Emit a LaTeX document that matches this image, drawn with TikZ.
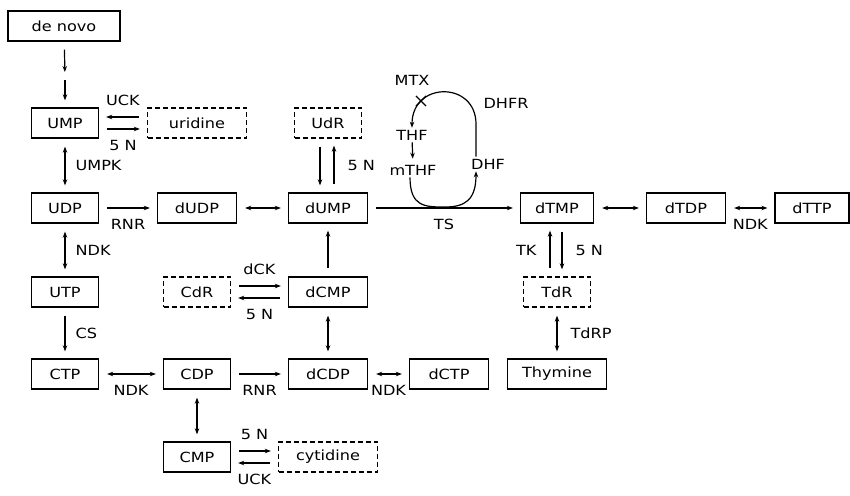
\documentclass[tikz,border=0pt]{standalone}
\usepackage{fontspec}
\setmainfont[FakeStretch=1.15]{DejaVu Sans}
\usetikzlibrary{arrows.meta,positioning,shapes.misc}

\begin{document}
\begin{tikzpicture}[
    x=1pt, y=-1pt,
    >={Stealth[length=6pt,width=4.5pt]},
    font=\fontsize{14}{16}\selectfont,
    box/.style={
        draw,
        line width=1.3pt,
        minimum width=67pt,
        minimum height=30pt,
        inner sep=2pt
    },
    midbox/.style={box, minimum width=79pt},
    widebox/.style={box, minimum width=99pt},
    pool/.style={dash pattern=on 5pt off 3pt},
    edge/.style={->, line width=1.2pt, shorten <=8pt, shorten >=7pt},
    twoway/.style={edge, <->},
    lab/.style={inner sep=1pt},
    met/.style={inner sep=1pt}
]
    \useasboundingbox (0,0) rectangle (850,495);

    \node[box, minimum width=112pt] (denovo) at (64,26) {de novo};
    \node[box] (UMP) at (65,123) {UMP};
    \node[widebox, pool] (uridine) at (197,123) {uridine};
    \node[box, pool] (UdR) at (328,123) {UdR};

    \node[box] (UDP) at (65,208) {UDP};
    \node[midbox] (dUDP) at (197,208) {dUDP};
    \node[midbox] (dUMP) at (328,208) {dUMP};
    \node[box, minimum width=73pt] (dTMP) at (557,208) {dTMP};
    \node[midbox] (dTDP) at (686,208) {dTDP};
    \node[box, minimum width=74pt] (dTTP) at (812,208) {dTTP};

    \node[box] (UTP) at (65,292) {UTP};
    \node[box, pool] (CdR) at (197,292) {CdR};
    \node[midbox] (dCMP) at (328,292) {dCMP};
    \node[box, pool] (TdR) at (557,292) {TdR};

    \node[box] (CTP) at (65,374) {CTP};
    \node[box] (CDP) at (197,374) {CDP};
    \node[midbox] (dCDP) at (328,374) {dCDP};
    \node[midbox] (dCTP) at (449,374) {dCTP};
    \node[widebox] (thymine) at (557,374) {Thymine};

    \node[box] (CMP) at (197,457) {CMP};
    \node[widebox, pool] (cytidine) at (328,457) {cytidine};

    \node[met] (THF) at (412,135) {THF};
    \node[met] (mTHF) at (413,170) {mTHF};
    \node[met, anchor=west] (DHF) at (470,164) {DHF};
    \node[lab] (MTX) at (412,80) {MTX};
    \node[lab] (DHFR) at (506,103) {DHFR};
    \node[cross out, draw, line width=1.1pt, minimum size=9pt, inner sep=0pt] (block) at (421,101) {};

    \coordinate (split) at (65,79);
    \draw[edge] (denovo) -- (split);
    \draw[edge, shorten <=1pt] (split) -- (UMP);

    \draw[edge] ([yshift=6pt]uridine.west) -- node[lab, above=10pt] {UCK} ([yshift=6pt]UMP.east);
    \draw[edge] ([yshift=-6pt]UMP.east) -- node[lab, below=10pt] {5 N} ([yshift=-6pt]uridine.west);
    \draw[twoway] (UMP) -- node[lab, right=9pt] {UMPK} (UDP);
    \draw[edge] (UDP) -- node[lab, below=10pt] {RNR} (dUDP);
    \draw[twoway] (dUDP) -- (dUMP);
    \draw[edge] ([xshift=-8pt]UdR.south) -- ([xshift=-8pt]dUMP.north);
    \draw[edge] ([xshift=6pt]dUMP.north) -- node[lab, right=12pt] {5 N} ([xshift=6pt]UdR.south);

    \draw[edge] (dUMP) -- node[lab, below=10pt] {TS} (dTMP);
    \draw[twoway] (dTMP) -- (dTDP);
    \draw[twoway] (dTDP) -- node[lab, below=10pt] {NDK} (dTTP);
    \draw[edge] ([xshift=-7pt]TdR.north) -- node[lab, left=12pt] {TK} ([xshift=-7pt]dTMP.south);
    \draw[edge] ([xshift=5pt]dTMP.south) -- node[lab, right=12pt] {5 N} ([xshift=5pt]TdR.north);
    \draw[twoway] (TdR) -- node[lab, right=12pt] {TdRP} (thymine);

    \draw[twoway] (UDP) -- node[lab, right=9pt] {NDK} (UTP);
    \draw[edge] (UTP) -- node[lab, right=9pt] {CS} (CTP);
    \draw[edge] ([yshift=6pt]CdR.east) -- node[lab, above=10pt] {dCK} ([yshift=6pt]dCMP.west);
    \draw[edge] ([yshift=-6pt]dCMP.west) -- node[lab, below=10pt] {5 N} ([yshift=-6pt]CdR.east);
    \draw[edge] (dCMP) -- (dUMP);
    \draw[twoway] (dCMP) -- (dCDP);

    \draw[twoway] (CTP) -- node[lab, below=10pt] {NDK} (CDP);
    \draw[edge] (CDP) -- node[lab, below=10pt] {RNR} (dCDP);
    \draw[twoway] (dCDP) -- node[lab, below=10pt] {NDK} (dCTP);
    \draw[twoway] (CDP) -- (CMP);
    \draw[edge] ([yshift=6pt]CMP.east) -- node[lab, above=10pt] {5 N} ([yshift=6pt]cytidine.west);
    \draw[edge] ([yshift=-6pt]cytidine.west) -- node[lab, below=10pt] {UCK} ([yshift=-6pt]CMP.east);

    \draw[edge, shorten <=1pt, shorten >=5pt] (THF) -- (mTHF);
    \draw[edge, shorten <=1pt, shorten >=1pt] ([xshift=-3pt]mTHF.south) .. controls (410,207) and (425,207) .. (445,207) .. controls (465,207) and (476,200) .. ([xshift=6pt]DHF.south west);
    \draw[edge, shorten <=1pt, shorten >=1pt] ([xshift=6pt]DHF.north west) -- (476,124) .. controls (476,81) and (412,81) .. (412,124) -- (THF.north);
\end{tikzpicture}
\end{document}
